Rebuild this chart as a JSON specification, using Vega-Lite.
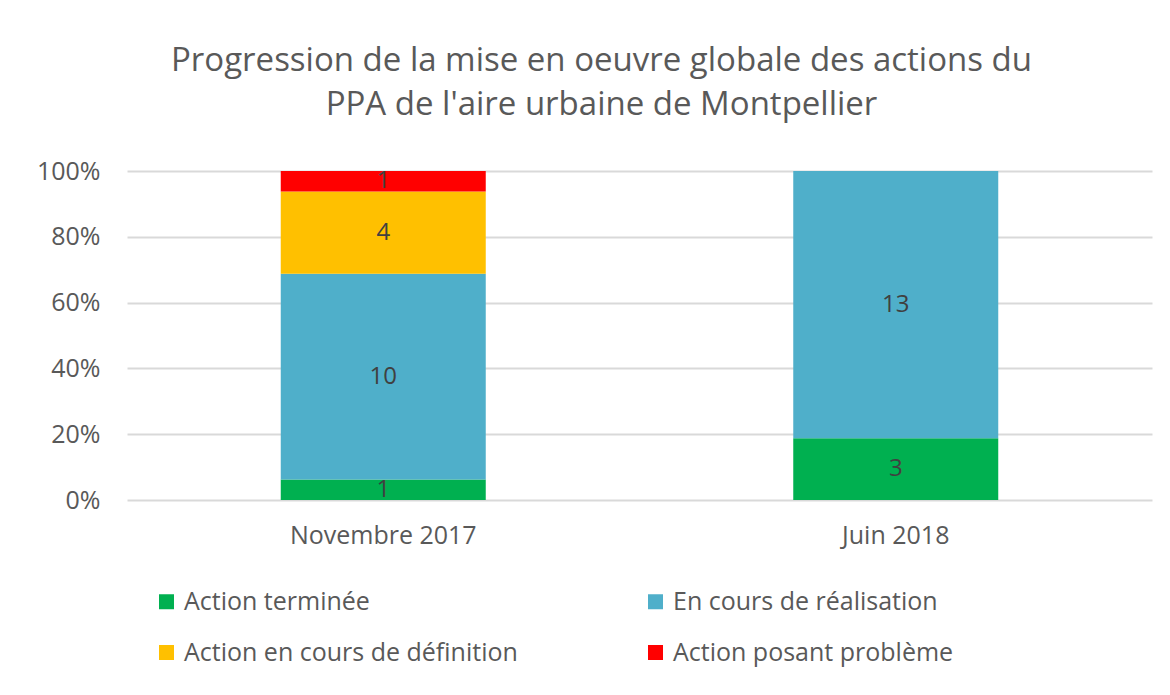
{
  "$schema": "https://vega.github.io/schema/vega-lite/v6.json",
  "width": 1025,
  "height": 329,
  "autosize": {"type": "none"},
  "padding": {"left": 127, "top": 171, "right": 18, "bottom": 195},
  "background": "white",
  "title": {
    "text": ["Progression de la mise en oeuvre globale des actions du", "PPA de l'aire urbaine de Montpellier"],
    "fontSize": 33,
    "font": "Open Sans",
    "fontWeight": "normal",
    "color": "#595959",
    "lineHeight": 44,
    "anchor": "middle",
    "dx": -38,
    "offset": 37
  },
  "data": {
    "values": [
      {"periode": "Novembre 2017", "statut": "Action terminée", "ordre": 1, "nombre": 1},
      {"periode": "Novembre 2017", "statut": "En cours de réalisation", "ordre": 2, "nombre": 10},
      {"periode": "Novembre 2017", "statut": "Action en cours de définition", "ordre": 3, "nombre": 4},
      {"periode": "Novembre 2017", "statut": "Action posant problème", "ordre": 4, "nombre": 1},
      {"periode": "Juin 2018", "statut": "Action terminée", "ordre": 1, "nombre": 3},
      {"periode": "Juin 2018", "statut": "En cours de réalisation", "ordre": 2, "nombre": 13}
    ]
  },
  "transform": [
    {"stack": "nombre", "groupby": ["periode"], "sort": [{"field": "ordre"}], "offset": "normalize", "as": ["y0", "y1"]},
    {"calculate": "(datum.y0 + datum.y1) / 2", "as": "ymid"}
  ],
  "config": {
    "view": {"stroke": null},
    "font": "Open Sans"
  },
  "layer": [
    {
      "mark": {"type": "bar"},
      "encoding": {
        "x": {
          "field": "periode",
          "type": "nominal",
          "sort": ["Novembre 2017", "Juin 2018"],
          "scale": {"paddingInner": 0.6, "paddingOuter": 0.3},
          "axis": {
            "title": null,
            "labelAngle": 0,
            "labelFontSize": 25,
            "labelColor": "#595959",
            "labelPadding": 23,
            "labelLimit": 400,
            "ticks": false,
            "domain": false,
            "labelFont": "Open Sans"
          }
        },
        "y": {
          "field": "y0",
          "type": "quantitative",
          "scale": {"domain": [0, 1]},
          "axis": {
            "title": null,
            "values": [0, 0.2, 0.4, 0.6, 0.8, 1],
            "format": ".0%",
            "labelFontSize": 25,
            "labelColor": "#595959",
            "labelPadding": 27,
            "ticks": false,
            "domain": false,
            "gridColor": "#d9d9d9",
            "gridWidth": 2,
            "labelFont": "Open Sans"
          }
        },
        "y2": {"field": "y1"},
        "color": {
          "field": "statut",
          "type": "nominal",
          "scale": {
            "domain": ["Action terminée", "En cours de réalisation", "Action en cours de définition", "Action posant problème"],
            "range": ["#00B050", "#4FAFCA", "#FFC000", "#FF0000"]
          },
          "legend": {
            "title": null,
            "orient": "none",
            "legendX": 27,
            "legendY": 418,
            "direction": "horizontal",
            "columns": 2,
            "symbolType": "square",
            "symbolSize": 225,
            "symbolStrokeWidth": 0,
            "labelFontSize": 25,
            "labelColor": "#595959",
            "labelFont": "Open Sans",
            "labelOffset": 5,
            "labelLimit": 500,
            "rowPadding": 25,
            "columnPadding": 125,
            "gridAlign": "all"
          }
        }
      }
    },
    {
      "mark": {"type": "text", "fontSize": 24, "color": "#404040", "font": "Open Sans", "baseline": "middle"},
      "encoding": {
        "x": {"field": "periode", "type": "nominal", "sort": ["Novembre 2017", "Juin 2018"]},
        "y": {"field": "ymid", "type": "quantitative"},
        "text": {"field": "nombre", "type": "quantitative"}
      }
    }
  ]
}
